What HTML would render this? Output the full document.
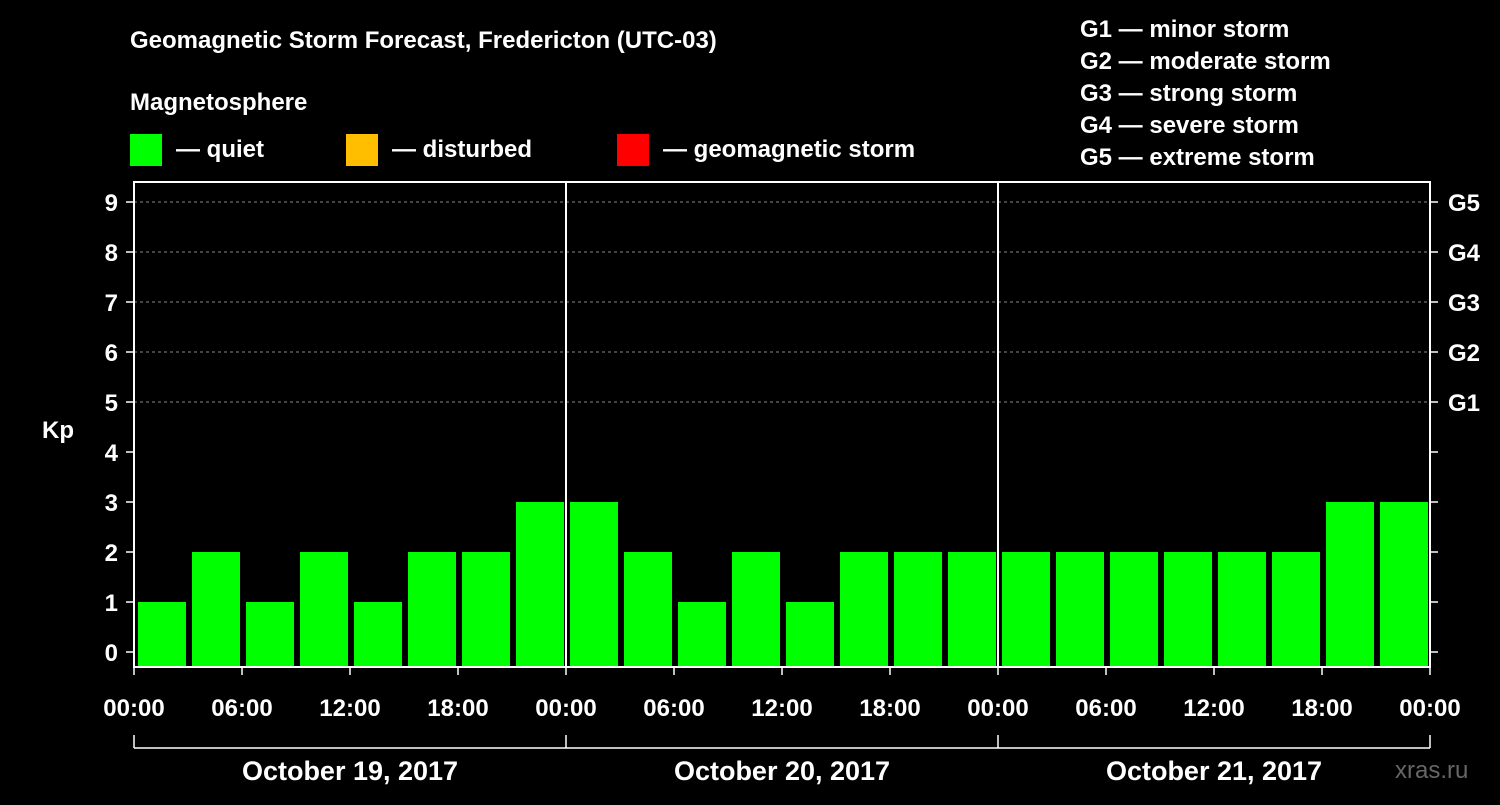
<!DOCTYPE html>
<html><head><meta charset="utf-8"><style>
html,body{margin:0;padding:0;background:#000;}
svg text{font-family:"Liberation Sans",sans-serif;font-weight:bold;fill:#fff;}
</style></head><body>
<svg width="1500" height="800" xmlns="http://www.w3.org/2000/svg">
<rect x="0" y="0" width="1500" height="800" fill="#000"/>
<text x="130" y="48" font-size="24">Geomagnetic Storm Forecast, Fredericton (UTC-03)</text>
<text x="130" y="110" font-size="24">Magnetosphere</text>
<g><rect x="130" y="134" width="32" height="32" fill="#00ff00"/><text x="176" y="157" font-size="24">— quiet</text></g>
<g><rect x="346" y="134" width="32" height="32" fill="#ffbf00"/><text x="392" y="157" font-size="24">— disturbed</text></g>
<g><rect x="617" y="134" width="32" height="32" fill="#ff0000"/><text x="663" y="157" font-size="24">— geomagnetic storm</text></g>
<g font-size="24">
<text x="1080" y="37">G1 — minor storm</text>
<text x="1080" y="69">G2 — moderate storm</text>
<text x="1080" y="101">G3 — strong storm</text>
<text x="1080" y="133">G4 — severe storm</text>
<text x="1080" y="165">G5 — extreme storm</text>
</g>
<text x="42" y="438" font-size="24">Kp</text>
<text x="1395" y="778" font-size="24" fill="#555" style="fill:#666;font-weight:normal">xras.ru</text>
<g id="plot"></g>
</svg>
<script>
const kpValues=[1,2,1,2,1,2,2,3, 3,2,1,2,1,2,2,2, 2,2,2,2,2,2,3,3];
const dayLabels=["October 19, 2017","October 20, 2017","October 21, 2017"];
const timeLabels=["00:00","06:00","12:00","18:00","00:00","06:00","12:00","18:00","00:00","06:00","12:00","18:00","00:00"];
const gLabels=["G1","G2","G3","G4","G5"];
const yTicks=[0,1,2,3,4,5,6,7,8,9];
const NS="http://www.w3.org/2000/svg";
const g=document.getElementById('plot');
const L=134,R=1430,T=182,B=667;
const slot=(R-L)/kpValues.length;
const y=v=>652-50*v;
const x=i=>L+i*slot;
function mk(tag,attrs,parent){const e=document.createElementNS(NS,tag);for(const k in attrs)e.setAttribute(k,attrs[k]);(parent||g).appendChild(e);return e;}
yTicks.forEach(v=>{
  if(v>=5){const l=mk('line',{x1:L,x2:R,y1:y(v),y2:y(v),stroke:'#888','stroke-dasharray':'3,3','stroke-width':1});
  
  }
  const t=mk('line',{x1:L-8,x2:L,y1:y(v),y2:y(v),stroke:'#fff','stroke-width':1.5});
  
  
  const t2=mk('line',{x1:R,x2:R+8,y1:y(v),y2:y(v),stroke:'#fff','stroke-width':1.5});
  
  
  const tx=mk('text',{x:L-16,y:y(v)+9,'font-size':24,'text-anchor':'end'});
  tx.textContent=v;
  
  
});
gLabels.forEach((s,i)=>{
  const tx=mk('text',{x:R+18,y:y(5+i)+9,'font-size':24});
  tx.textContent=s;
  
  
});
kpValues.forEach((v,i)=>{
  const c=v>=5?'#ff0000':(v>=4?'#ffbf00':'#00ff00');
  const r=mk('rect',{x:x(i)+4,y:y(v),width:slot-6,height:B-y(v),fill:c});
  
  
});
for(let d=1;d<dayLabels.length;d++){
  const xx=x(d*8);
  const l=mk('line',{x1:xx,x2:xx,y1:T,y2:B,stroke:'#fff','stroke-width':2});
  
  
}
const fr=mk('rect',{x:L,y:T,width:R-L,height:B-T,fill:'none',stroke:'#fff','stroke-width':2});


timeLabels.forEach((s,i)=>{
  const xx=x(i*2);
  const t=mk('line',{x1:xx,x2:xx,y1:B,y2:B+8,stroke:'#fff','stroke-width':1.5});
  
  
  const tx=mk('text',{x:xx,y:716,'font-size':24,'text-anchor':'middle'});
  tx.textContent=s;
  
  
});
const bl=mk('line',{x1:L,x2:R,y1:748,y2:748,stroke:'#fff','stroke-width':1.5});


for(let d=0;d<=dayLabels.length;d++){
  const xx=x(d*8);
  const t=mk('line',{x1:xx,x2:xx,y1:735,y2:748,stroke:'#fff','stroke-width':1.5});
  
  
}
dayLabels.forEach((s,d)=>{
  const tx=mk('text',{x:x(d*8+4),y:780,'font-size':27,'text-anchor':'middle'});
  tx.textContent=s;
  
  
});
</script>
</body></html>
